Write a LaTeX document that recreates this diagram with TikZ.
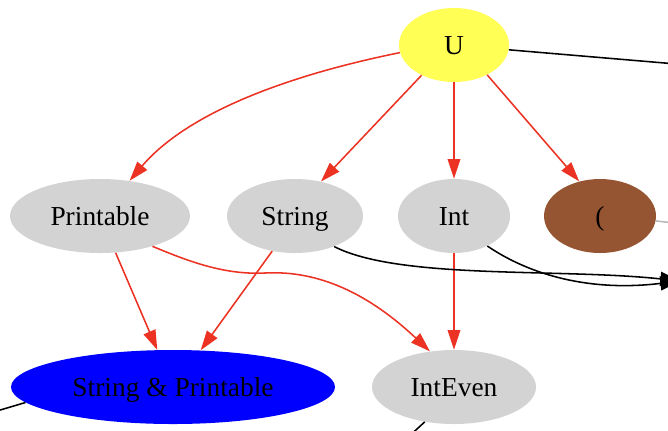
\documentclass[tikz,border=0pt]{standalone}
\usepackage{fontspec}
\setmainfont{Liberation Serif}
\usepackage{tikz}
\usetikzlibrary{positioning, arrows.meta, shapes.geometric}

\definecolor{edgered}{RGB}{235,50,35}
\definecolor{nodegray}{RGB}{211,211,211}
\definecolor{nodeyellow}{RGB}{255,255,85}
\definecolor{nodebrown}{RGB}{150,85,50}
\definecolor{linegray}{RGB}{185,185,185}

\tikzset{
  gvnode/.style={ellipse, inner sep=0pt, minimum height=74*0.025cm,
    text height=13pt, text depth=0pt, font=\fontsize{19.5}{22}\selectfont},
  graynode/.style={gvnode, fill=nodegray},
  subedge/.style={edgered, line width=1.1pt, -{Triangle[length=14pt,width=9pt]}},
  blackedge/.style={black, line width=1.1pt},
}

\begin{document}
\begin{tikzpicture}[x=0.025cm, y=-0.025cm]
\clip (0,0) rectangle (668,430);
% Nodes
\node[gvnode, fill=nodeyellow, minimum width=110*0.025cm] (U) at (454,45) {U};
\node[graynode, minimum width=180*0.025cm] (Printable) at (100,216) {Printable};
\node[graynode, minimum width=136*0.025cm] (String) at (295,216) {String};
\node[graynode, minimum width=112*0.025cm] (Int) at (454,216) {Int};
\node[gvnode, fill=nodebrown, minimum width=112*0.025cm] (Paren) at (600,216) {(};
\node[gvnode, fill=blue, minimum width=324*0.025cm] (StrPrint) at (173,387) {String \& Printable};
\node[graynode, minimum width=164*0.025cm] (IntEven) at (454,387) {IntEven};
% Free ends outside the frame
\coordinate (offTop) at (700,66);
\coordinate (offMid) at (700,226);
\coordinate (offRight) at (680,281);
\coordinate (offLeft) at (-20,416);
\coordinate (offBottom) at (405,440);
% Red edges
\draw[subedge] (U.188) .. controls (270,79) and (182,119) .. (Printable.50);
\draw[subedge] (U.223) -- (String.53);
\draw[subedge] (U) -- (Int);
\draw[subedge] (U.318) -- (Paren.121);
\draw[subedge] (Printable.293) -- (StrPrint.113);
\draw[subedge] (String.237) -- (StrPrint.53);
\draw[subedge] (Printable.330) .. controls (190,262) and (225,275) .. (265,273)
  .. controls (320,270) and (370,295) .. (IntEven.124);
\draw[subedge] (Int) -- (IntEven);
% Black edges
\draw[blackedge] (U.355) -- (offTop);
\draw[linegray, line width=1.1pt] (Paren.355) -- (offMid);
\draw[blackedge, -{Triangle[length=14pt,width=10pt]}] (String.322) .. controls (400,280) and (560,268) .. (offRight);
\draw[blackedge, -{Triangle[length=14pt,width=10pt]}] (Int.318) .. controls (530,275) and (590,292) .. (offRight);
\draw[blackedge] (StrPrint.186) -- (offLeft);
\draw[blackedge] (IntEven.230) -- (offBottom);
\end{tikzpicture}
\end{document}
